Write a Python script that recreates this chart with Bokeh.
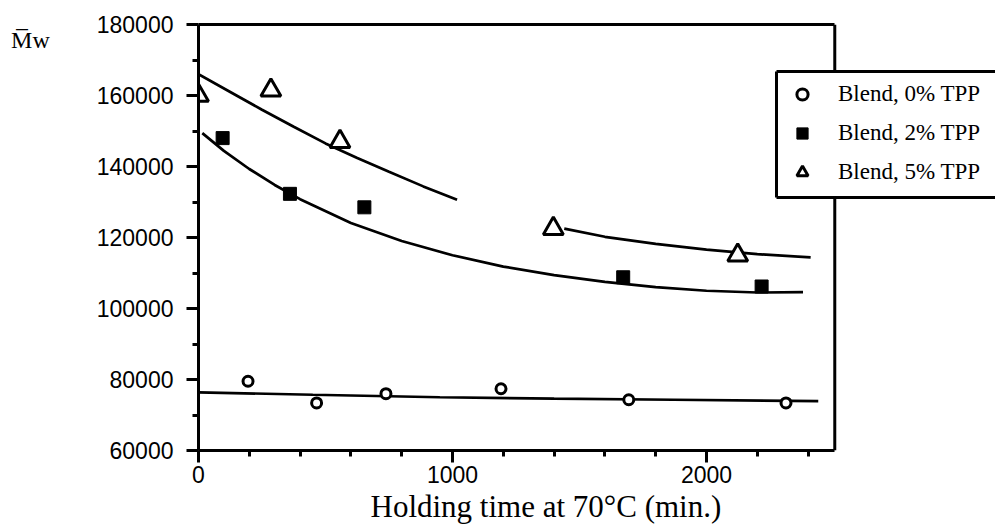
from bokeh.plotting import figure
from bokeh.models import (Range1d, FixedTicker, Legend, LegendItem, LinearAxis,
                          Span, Title)
from bokeh.embed import file_html
from bokeh.resources import INLINE

# ---- data ----
time_0 = [195, 465, 738, 1191, 1694, 2313]
mw_0 = [79500, 73400, 76000, 77400, 74300, 73400]
time_2 = [95, 360, 653, 1672, 2217]
mw_2 = [148000, 132300, 128500, 108800, 106200]
time_5 = [0, 285, 557, 1397, 2123]
mw_5 = [160000, 161500, 147000, 122500, 115000]

fit_t_0 = [0, 450, 950, 1400, 1870, 2440]
fit_mw_0 = [76400, 75700, 75000, 74600, 74300, 73900]
fit_t_2 = [15, 100, 200, 300, 400, 600, 800, 1000, 1200, 1400, 1600, 1800,
           2000, 2200, 2380]
fit_mw_2 = [149400, 144400, 139300, 134800, 130800, 124100, 119000, 115000,
            111800, 109400, 107500, 106000, 105000, 104500, 104600]
fit_t_5a = [0, 125, 250, 375, 500, 625, 750, 885, 1018]
fit_mw_5a = [166000, 161000, 156000, 151200, 146500, 142400, 138500, 134400,
             130600]
fit_t_5b = [1440, 1600, 1800, 2000, 2200, 2410]
fit_mw_5b = [122500, 120200, 118200, 116600, 115300, 114400]

x_ticks = [0, 1000, 2000]
x_minor = [200, 400, 600, 800, 1200, 1400, 1600, 1800, 2200, 2400]
x_end = 2505
y_ticks = [60000, 80000, 100000, 120000, 140000, 160000, 180000]
y_minor = [70000, 90000, 110000, 130000, 150000, 170000]
y_start, y_stop = 60000, 180000

labels = ["Blend, 0% TPP", "Blend, 2% TPP", "Blend, 5% TPP"]
x_title = "Holding time at 70°C (min.)"
y_title = "\nM\u0305w"

SANS = "Liberation Sans"
SERIF = "Liberation Serif"

W, H = 995, 527
LEFT, TOP, BOTTOM = 198, 24, 77
FRAME_H = H - TOP - BOTTOM
px_per_unit = 0.254  # pixels per minute on the x axis
view_end = (W - LEFT) / px_per_unit


def x_at(px):
    return (px - LEFT) / px_per_unit


def y_at(py):
    return y_start + (H - BOTTOM - py) / FRAME_H * (y_stop - y_start)


p = figure(width=W, height=H, output_backend="svg", toolbar_location=None,
           x_range=Range1d(0, view_end), y_range=Range1d(y_start, y_stop),
           min_border_left=LEFT, min_border_right=0, min_border_top=TOP,
           min_border_bottom=BOTTOM)
p.background_fill_color = "white"
p.border_fill_color = "white"
p.outline_line_color = None
p.xgrid.visible = False
p.ygrid.visible = False

p.xaxis.ticker = FixedTicker(ticks=x_ticks, minor_ticks=x_minor)
p.yaxis.ticker = FixedTicker(ticks=y_ticks, minor_ticks=y_minor)
p.xaxis.major_label_overrides = {t: str(t) for t in x_ticks}
p.yaxis.major_label_overrides = {t: str(t) for t in y_ticks}
p.xaxis.bounds = (0, x_end)
for ax in (p.xaxis, p.yaxis):
    ax.axis_line_width = 3
    ax.axis_line_color = "black"
    ax.major_tick_line_width = 3
    ax.minor_tick_line_width = 3
    ax.major_tick_line_color = "black"
    ax.minor_tick_line_color = "black"
    ax.major_tick_out = 12
    ax.major_tick_in = 0
    ax.minor_tick_out = 6
    ax.minor_tick_in = 0
    ax.major_label_text_font = SANS
    ax.major_label_text_font_size = "23px"
    ax.major_label_text_color = "black"
    ax.axis_label_text_font = SERIF
    ax.axis_label_text_font_style = "normal"
    ax.axis_label_text_color = "black"
p.yaxis.major_label_standoff = 13
p.xaxis.major_label_standoff = 3

p.yaxis.axis_label = y_title
p.yaxis.axis_label_text_font_size = "24px"
p.yaxis.axis_label_orientation = "horizontal"
p.yaxis.axis_label_align = "end"
p.yaxis.axis_label_standoff = 44

# x-axis title, placed under the axis
p.add_layout(Title(text=x_title, align="left", offset=172, standoff=2,
                   text_font=SERIF, text_font_size="31px",
                   text_font_style="normal", text_color="black"), "below")

# top border of the plot box
top_axis = LinearAxis(ticker=FixedTicker(ticks=[]), bounds=(0, x_end),
                      axis_line_width=3, axis_line_color="black",
                      major_tick_out=0, major_tick_in=0, minor_tick_out=0,
                      minor_tick_in=0, major_label_standoff=0)
p.add_layout(top_axis, "above")
# right border of the plot box (under the legend box)
p.add_layout(Span(location=x_end, dimension="height", line_color="black",
                  line_width=3, level="underlay"))

# fitted curves
for xs, ys in ((fit_t_0, fit_mw_0), (fit_t_2, fit_mw_2),
               (fit_t_5a, fit_mw_5a), (fit_t_5b, fit_mw_5b)):
    p.line(xs, ys, line_color="black", line_width=2.7)

# legend box, open on the right (it runs off the picture's edge)
bx_l, bx_r = x_at(776), view_end * 1.2
bx_t, bx_b = y_at(71), y_at(197)
p.quad(left=[bx_l], right=[bx_r], top=[bx_t], bottom=[bx_b],
       fill_color="white", line_color=None)
p.segment(x0=[bx_l, bx_l, bx_l], y0=[bx_t, bx_b, bx_t],
          x1=[bx_r, bx_r, bx_l], y1=[bx_t, bx_b, bx_b],
          line_color="black", line_width=3)

r0 = p.scatter(time_0, mw_0, marker="circle", size=10, fill_color="white",
               line_color="black", line_width=3)
r2 = p.scatter(time_2, mw_2, marker="square", size=13, fill_color="black",
               line_color="black", line_width=1)
r5 = p.scatter(time_5, mw_5, marker="triangle", size=20, fill_color="white",
               line_color="black", line_width=3)

legend = Legend(items=[LegendItem(label=labels[0], renderers=[r0]),
                       LegendItem(label=labels[1], renderers=[r2]),
                       LegendItem(label=labels[2], renderers=[r5])],
                location=(588, 264), margin=0, padding=8, spacing=11,
                glyph_width=32, glyph_height=28, label_standoff=20,
                label_text_font=SERIF, label_text_font_size="23px",
                label_text_color="black",
                border_line_color=None,
                background_fill_color="white", background_fill_alpha=0)
p.add_layout(legend)

open("out.html", "w").write(file_html(p, INLINE))
